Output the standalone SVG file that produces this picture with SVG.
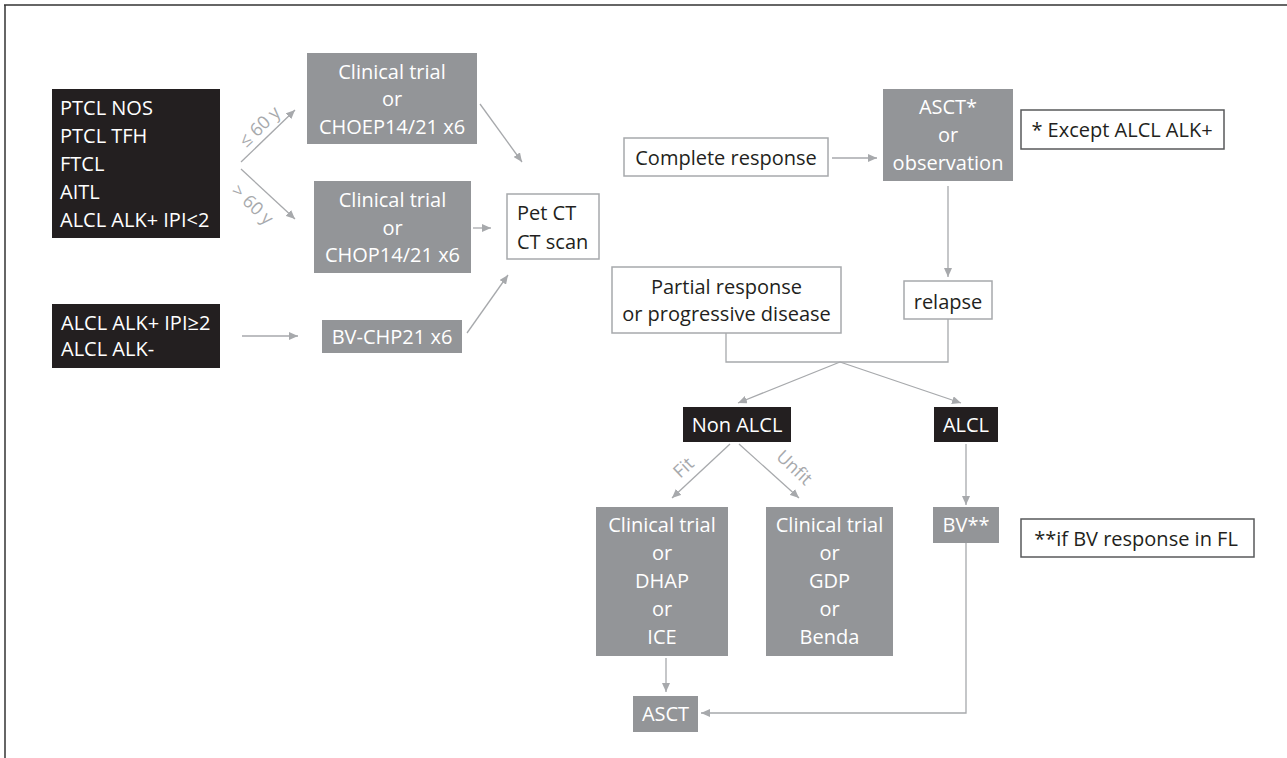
<svg xmlns="http://www.w3.org/2000/svg" width="1287" height="758" viewBox="0 0 1287 758">
<style>
text{font-family:"Open Sans","Noto Sans","Liberation Sans",sans-serif;font-size:20px}
.blk{fill:#231f20}
.gry{fill:#939598}
.wht{fill:#fff;stroke:#a7a9ac;stroke-width:1.5}
.note{fill:#fff;stroke:#58595b;stroke-width:1.5}
.tw{fill:#fff}
.td{fill:#231f20}
.c{text-anchor:middle}
.lbl{fill:#a7a9ac;stroke:none;font-size:18px;text-anchor:middle;dominant-baseline:central}
.con{fill:none;stroke:#a7a9ac;stroke-width:1.3}
</style>
<defs>
<marker id="ah" markerUnits="userSpaceOnUse" markerWidth="10" markerHeight="8" refX="9" refY="4" orient="auto">
<path d="M0,0 L9,4 L0,8 z" fill="#a7a9ac" stroke="none"/>
</marker>
</defs>
<rect width="1287" height="758" fill="#fff"/>
<g id="frame" stroke="#333" stroke-width="1.5">
<line x1="4" y1="5" x2="1287" y2="5"/>
<line x1="5" y1="5" x2="5" y2="758"/>
</g>
<g id="connectors">
<g class="con">
<path d="M241,162 L295,110" marker-end="url(#ah)"/>
<path d="M241,169 L295,219" marker-end="url(#ah)"/>
<path d="M242,336 L298,336" marker-end="url(#ah)"/>
<path d="M480,104 L522,162" marker-end="url(#ah)"/>
<path d="M473,228 L491,228" marker-end="url(#ah)"/>
<path d="M467,333 L508,275" marker-end="url(#ah)"/>
<path d="M832,158 L877,158" marker-end="url(#ah)"/>
<path d="M948,186 L948,277" marker-end="url(#ah)"/>
<path d="M726,333 L726,362 L948,362 L948,319"/>
<path d="M840,362 L738,403" marker-end="url(#ah)"/>
<path d="M840,362 L961,403" marker-end="url(#ah)"/>
<path d="M730,444 L672,498" marker-end="url(#ah)"/>
<path d="M739,444 L799,498" marker-end="url(#ah)"/>
<path d="M966,444 L966,505" marker-end="url(#ah)"/>
<path d="M666,658 L666,692" marker-end="url(#ah)"/>
<path d="M966,543 L966,713 L701,713" marker-end="url(#ah)"/>
</g>
<text class="lbl" transform="translate(259,126) rotate(-44)">≤ 60 y</text>
<text class="lbl" transform="translate(253,204) rotate(43)">&gt; 60 y</text>
<text class="lbl" transform="translate(683,467) rotate(-43)">Fit</text>
<text class="lbl" transform="translate(795,467) rotate(43)">Unfit</text>
</g>
<g id="n-types1">
<rect class="blk" x="52" y="89" width="168" height="149"/>
<text class="tw" x="60" y="115">PTCL NOS</text>
<text class="tw" x="60" y="143">PTCL TFH</text>
<text class="tw" x="60" y="171">FTCL</text>
<text class="tw" x="60" y="199">AITL</text>
<text class="tw" x="60" y="227">ALCL ALK+ IPI&lt;2</text>
</g>
<g id="n-types2">
<rect class="blk" x="52" y="304" width="168" height="64"/>
<text class="tw" x="61" y="330">ALCL ALK+ IPI≥2</text>
<text class="tw" x="61" y="356">ALCL ALK-</text>
</g>
<g id="n-choep">
<rect class="gry" x="307" y="53" width="170" height="91"/>
<text class="tw c" x="392" y="79">Clinical trial</text>
<text class="tw c" x="392" y="106">or</text>
<text class="tw c" x="392" y="134">CHOEP14/21 x6</text>
</g>
<g id="n-chop">
<rect class="gry" x="314" y="181" width="157" height="92"/>
<text class="tw c" x="392.5" y="207">Clinical trial</text>
<text class="tw c" x="392.5" y="235">or</text>
<text class="tw c" x="392.5" y="262">CHOP14/21 x6</text>
</g>
<g id="n-bvchp">
<rect class="gry" x="322" y="320" width="140" height="33"/>
<text class="tw c" x="392" y="344">BV-CHP21 x6</text>
</g>
<g id="n-petct">
<rect class="wht" x="507" y="194" width="92" height="65"/>
<text class="td" x="517" y="220">Pet CT</text>
<text class="td" x="517" y="249">CT scan</text>
</g>
<g id="n-cr">
<rect class="wht" x="624" y="138" width="204" height="38"/>
<text class="td c" x="726" y="165">Complete response</text>
</g>
<g id="n-asct-obs">
<rect class="gry" x="883" y="89" width="130" height="92"/>
<text class="tw c" x="948" y="114">ASCT*</text>
<text class="tw c" x="948" y="142">or</text>
<text class="tw c" x="948" y="170">observation</text>
</g>
<g id="n-note1">
<rect class="note" x="1021" y="110" width="203" height="39"/>
<text class="td c" x="1122" y="137">* Except ALCL ALK+</text>
</g>
<g id="n-partial">
<rect class="wht" x="612" y="267" width="229" height="66"/>
<text class="td c" x="726.5" y="294">Partial response</text>
<text class="td c" x="726.5" y="321">or progressive disease</text>
</g>
<g id="n-relapse">
<rect class="wht" x="904" y="281" width="88" height="38"/>
<text class="td c" x="948" y="309">relapse</text>
</g>
<g id="n-nonalcl">
<rect class="blk" x="683" y="407" width="108" height="35"/>
<text class="tw c" x="737" y="432">Non ALCL</text>
</g>
<g id="n-alcl">
<rect class="blk" x="934" y="407" width="64" height="35"/>
<text class="tw c" x="966" y="432">ALCL</text>
</g>
<g id="n-fit">
<rect class="gry" x="596" y="507" width="132" height="149"/>
<text class="tw c" x="662" y="532">Clinical trial</text>
<text class="tw c" x="662" y="560">or</text>
<text class="tw c" x="662" y="588">DHAP</text>
<text class="tw c" x="662" y="616">or</text>
<text class="tw c" x="662" y="644">ICE</text>
</g>
<g id="n-unfit">
<rect class="gry" x="766" y="507" width="127" height="149"/>
<text class="tw c" x="829.5" y="532">Clinical trial</text>
<text class="tw c" x="829.5" y="560">or</text>
<text class="tw c" x="829.5" y="588">GDP</text>
<text class="tw c" x="829.5" y="616">or</text>
<text class="tw c" x="829.5" y="644">Benda</text>
</g>
<g id="n-bv">
<rect class="gry" x="933" y="507" width="66" height="36"/>
<text class="tw c" x="966" y="532">BV**</text>
</g>
<g id="n-note2">
<rect class="note" x="1021" y="519" width="233" height="38"/>
<text class="td c" x="1136" y="546">**if BV response in FL</text>
</g>
<g id="n-asct">
<rect class="gry" x="633" y="696" width="65" height="36"/>
<text class="tw c" x="665.5" y="721">ASCT</text>
</g>
</svg>
